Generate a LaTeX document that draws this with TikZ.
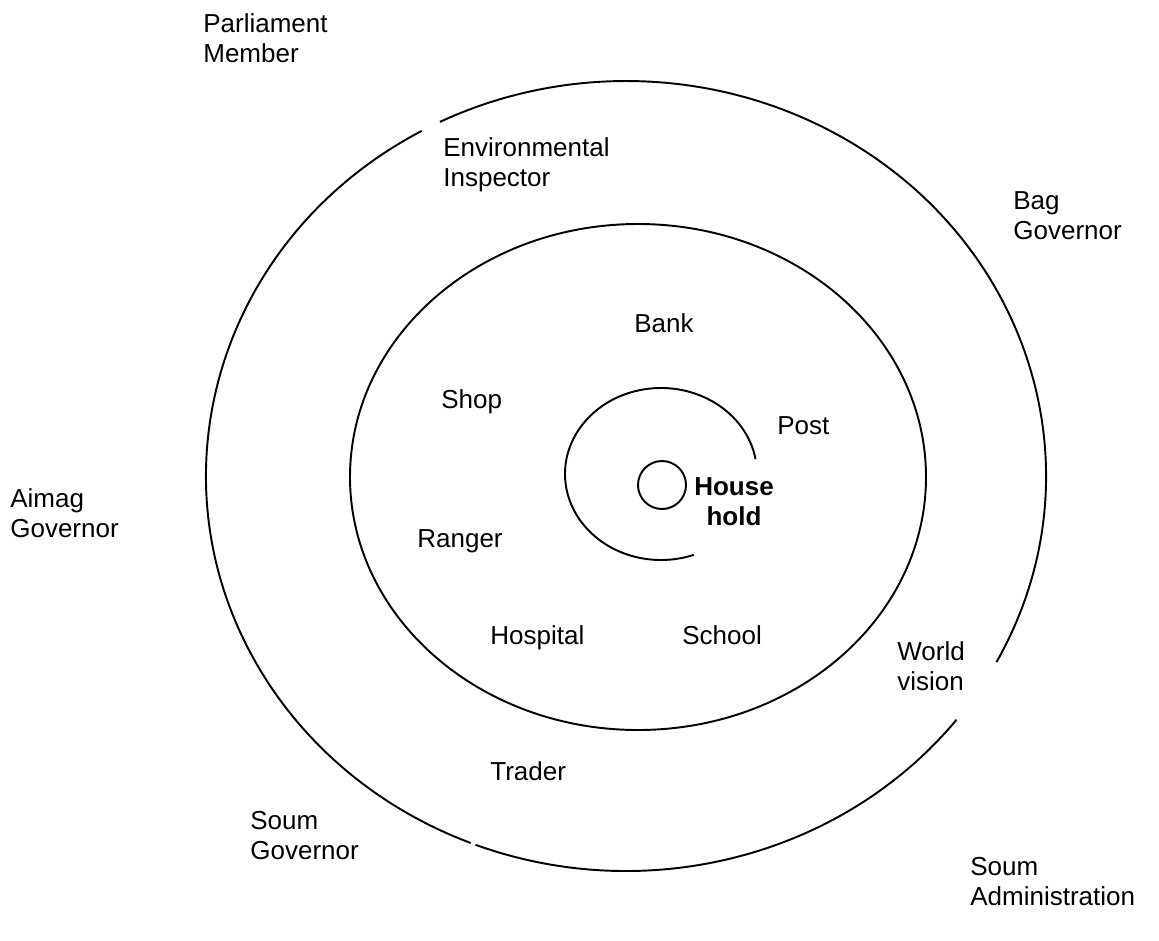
\documentclass[tikz,border=0pt]{standalone}
\usepackage{fontspec}
\setmainfont{Liberation Sans}
\begin{document}
\begin{tikzpicture}[x=0.02cm,y=0.02cm,
  ring/.style={line width=1.1pt,black},
  lbl/.style={font=\fontsize{14.8}{17}\selectfont,inner sep=0pt,anchor=north west,align=left},
  hh/.style={font=\fontsize{14.8}{17}\selectfont\bfseries,inner sep=0pt,anchor=north,align=center}]
\useasboundingbox (0,0) rectangle (1159,-940);
% outer ring with three gaps
\draw[ring] (626,-476) ++(-111.0:420 and 395) arc[start angle=-111.0,end angle=-38.1,x radius=420,y radius=395];
\draw[ring] (626,-476) ++(-28.1:420 and 395) arc[start angle=-28.1,end angle=116.3,x radius=420,y radius=395];
\draw[ring] (626,-476) ++(119.1:420 and 395) arc[start angle=119.1,end angle=248.3,x radius=420,y radius=395];
% inner ellipse
\draw[ring] (638,-477) ellipse[x radius=288,y radius=253];
% open ring around household
\draw[ring] (661,-474) ++(10:96 and 86) arc[start angle=10,end angle=290,x radius=96,y radius=86];
% household circle
\draw[ring] (662,-485) circle[radius=24];
% labels
\node[lbl] (parl) at (203,-13) {Parliament\\Member};
\node[lbl] (env) at (443,-137) {Environmental\\Inspector};
\node[lbl] (bag) at (1013,-191) {Bag\\Governor};
\node[lbl] (bank) at (634,-313) {Bank};
\node[lbl] (shop) at (441,-389) {Shop};
\node[lbl] (post) at (777,-416) {Post};
\node[hh] (house) at (734,-477) {House\\hold};
\node[lbl] (aimag) at (10,-488) {Aimag\\Governor};
\node[lbl] (ranger) at (417,-529) {Ranger};
\node[lbl] (hosp) at (490,-625) {Hospital};
\node[lbl] (school) at (682,-625) {School};
\node[lbl] (world) at (897,-641) {World\\vision};
\node[lbl] (trader) at (490,-761) {Trader};
\node[lbl] (soumg) at (250,-811) {Soum\\Governor};
\node[lbl] (souma) at (970,-857) {Soum\\Administration};
\end{tikzpicture}
\end{document}
